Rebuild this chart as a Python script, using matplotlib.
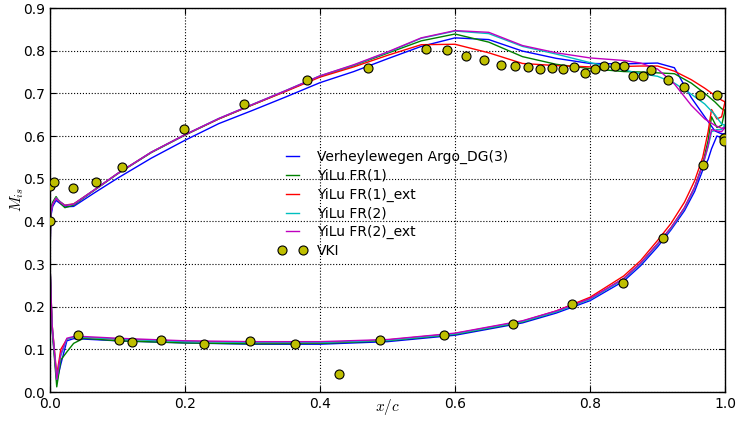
import matplotlib
matplotlib.use("Agg")
import matplotlib.pyplot as plt
from matplotlib.legend_handler import HandlerLine2D

plt.rcParams['mathtext.fontset'] = 'cm'
plt.rcParams['xtick.direction'] = 'in'
plt.rcParams['ytick.direction'] = 'in'
plt.rcParams['xtick.top'] = True
plt.rcParams['ytick.right'] = True

# chord stations: lower (pressure) side from TE to LE, upper (suction) side from LE to TE
x_lower = [1.0, 0.995, 0.988, 0.98, 0.975, 0.967, 0.955, 0.94, 0.92, 0.9,
           0.875, 0.85, 0.8, 0.75, 0.7, 0.6, 0.5, 0.4, 0.3, 0.2, 0.1,
           0.05, 0.035, 0.025, 0.016, 0.01, 0.003, 0.0]
x_upper = [0.001, 0.004, 0.009, 0.015, 0.022, 0.035, 0.065,
           0.1, 0.15, 0.2, 0.25, 0.3, 0.35, 0.4, 0.45, 0.5, 0.55, 0.6, 0.65, 0.7, 0.75, 0.8, 0.85,
           0.875, 0.9, 0.925, 0.95, 0.97, 0.985, 0.995, 1.0]

# isentropic Mach number, Verheylewegen Argo_DG(3)
argo_lower = [0.605, 0.596, 0.600, 0.570, 0.545, 0.520, 0.470, 0.425, 0.380, 0.340,
              0.296, 0.260, 0.214, 0.185, 0.162, 0.133, 0.118, 0.112, 0.112, 0.115, 0.120,
              0.124, 0.125, 0.120, 0.065, 0.025, 0.15, 0.30]
argo_upper = [0.41, 0.435, 0.449, 0.442, 0.434, 0.435, 0.466,
              0.501, 0.548, 0.590, 0.629, 0.660, 0.692, 0.725, 0.751, 0.781, 0.810, 0.830, 0.826, 0.799, 0.782, 0.770, 0.769,
              0.770, 0.771, 0.760, 0.690, 0.645, 0.612, 0.605, 0.605]

# YiLu FR(1)
fr1_lower = [0.660, 0.625, 0.620, 0.645, 0.590, 0.535, 0.480, 0.432, 0.385, 0.347,
             0.302, 0.266, 0.218, 0.188, 0.164, 0.135, 0.120, 0.114, 0.113, 0.115, 0.120,
             0.126, 0.114, 0.094, 0.075, 0.012, 0.15, 0.30]
fr1_upper = [0.43, 0.445, 0.458, 0.443, 0.432, 0.438, 0.472,
             0.511, 0.561, 0.602, 0.640, 0.673, 0.706, 0.740, 0.765, 0.794, 0.823, 0.839, 0.820, 0.786, 0.768, 0.758, 0.751,
             0.750, 0.748, 0.746, 0.724, 0.700, 0.680, 0.664, 0.660]

# YiLu FR(1)_ext
fr1e_lower = [0.680, 0.645, 0.640, 0.662, 0.610, 0.550, 0.495, 0.445, 0.395, 0.355,
              0.308, 0.272, 0.222, 0.190, 0.166, 0.137, 0.122, 0.116, 0.116, 0.119, 0.124,
              0.128, 0.128, 0.124, 0.100, 0.040, 0.16, 0.30]
fr1e_upper = [0.42, 0.44, 0.455, 0.446, 0.438, 0.441, 0.473,
              0.512, 0.562, 0.603, 0.640, 0.673, 0.705, 0.738, 0.762, 0.789, 0.814, 0.815, 0.795, 0.770, 0.765, 0.762, 0.763,
              0.764, 0.764, 0.752, 0.732, 0.712, 0.695, 0.684, 0.680]

# YiLu FR(2)
fr2_lower = [0.625, 0.615, 0.615, 0.610, 0.575, 0.530, 0.478, 0.430, 0.383, 0.345,
             0.300, 0.264, 0.217, 0.188, 0.165, 0.136, 0.121, 0.116, 0.116, 0.118, 0.124,
             0.128, 0.128, 0.124, 0.085, 0.030, 0.16, 0.30]
fr2_upper = [0.42, 0.44, 0.455, 0.446, 0.437, 0.440, 0.473,
             0.512, 0.562, 0.603, 0.641, 0.674, 0.707, 0.741, 0.766, 0.796, 0.829, 0.846, 0.840, 0.810, 0.792, 0.772, 0.755,
             0.746, 0.740, 0.724, 0.698, 0.675, 0.650, 0.628, 0.625]

# YiLu FR(2)_ext
fr2e_lower = [0.620, 0.610, 0.612, 0.615, 0.578, 0.532, 0.480, 0.432, 0.385, 0.347,
              0.302, 0.266, 0.219, 0.190, 0.167, 0.138, 0.123, 0.118, 0.118, 0.120, 0.126,
              0.130, 0.130, 0.126, 0.090, 0.030, 0.16, 0.30]
fr2e_upper = [0.42, 0.44, 0.454, 0.445, 0.437, 0.440, 0.473,
              0.512, 0.562, 0.603, 0.641, 0.674, 0.707, 0.741, 0.767, 0.797, 0.830, 0.847, 0.843, 0.812, 0.795, 0.783, 0.777,
              0.771, 0.757, 0.722, 0.672, 0.640, 0.625, 0.618, 0.620]

# VKI measurements
vki_x = [0.0, 0.0, 0.006, 0.0345, 0.0677, 0.1067, 0.1985, 0.287, 0.380, 0.4716,
         0.5575, 0.5877, 0.6168, 0.6435, 0.6677, 0.689, 0.7077, 0.7264, 0.7437, 0.760,
         0.7758, 0.7926, 0.807, 0.821, 0.8375, 0.851, 0.863, 0.878, 0.891, 0.916,
         0.9397, 0.963, 0.988, 0.999, 0.999,
         0.041, 0.1017, 0.1215, 0.1644, 0.2277, 0.2958, 0.3634, 0.428, 0.489, 0.5837,
         0.686, 0.774, 0.849, 0.9086, 0.967]
vki_m = [0.40, 0.482, 0.493, 0.477, 0.492, 0.527, 0.616, 0.675, 0.732, 0.760,
         0.804, 0.802, 0.7875, 0.777, 0.766, 0.763, 0.762, 0.758, 0.759, 0.758,
         0.761, 0.747, 0.758, 0.763, 0.763, 0.763, 0.741, 0.740, 0.755, 0.732,
         0.715, 0.697, 0.695, 0.595, 0.588,
         0.133, 0.122, 0.1165, 0.121, 0.113, 0.1195, 0.112, 0.043, 0.122, 0.134,
         0.1586, 0.206, 0.256, 0.3617, 0.531]

series = [
    ("Verheylewegen Argo_DG(3)", argo_lower, argo_upper, (0, 0, 1)),
    ("YiLu FR(1)", fr1_lower, fr1_upper, (0, 0.5, 0)),
    ("YiLu FR(1)_ext", fr1e_lower, fr1e_upper, (1, 0, 0)),
    ("YiLu FR(2)", fr2_lower, fr2_upper, (0, 0.75, 0.75)),
    ("YiLu FR(2)_ext", fr2e_lower, fr2e_upper, (0.75, 0, 0.75)),
]

fig = plt.figure(figsize=(7.4, 4.25), dpi=100)
ax = fig.add_axes([50 / 740, 33 / 425, 675 / 740, 384 / 425])

xs = x_lower + x_upper
for name, lower, upper, color in series:
    ax.plot(xs, lower + upper, color=color, lw=1.0, label=name)

vki, = ax.plot(vki_x, vki_m, 'o', color=(0.75, 0.75, 0), mec='black', mew=0.8, ms=6.5,
               ls='none', label="VKI", zorder=5)

ax.set_xlim(0, 1)
ax.set_ylim(0, 0.9)
ax.set_xticks([0.0, 0.2, 0.4, 0.6, 0.8, 1.0])
ax.set_yticks([0.0, 0.1, 0.2, 0.3, 0.4, 0.5, 0.6, 0.7, 0.8, 0.9])
ax.tick_params(labelsize=10, length=4, width=0.8)
ax.set_xlabel("$x/c$", fontsize=11)
ax.xaxis.set_label_coords(0.5, -0.012)
ax.set_ylabel("$M_{is}$", fontsize=11)
ax.yaxis.set_label_coords(-0.036, 0.5)
ax.grid(True, color='black', linestyle=':', linewidth=0.8)
for sp in ax.spines.values():
    sp.set_linewidth(1.0)

ax.legend(loc='upper left', bbox_to_anchor=(0.325, 0.664), frameon=False,
          numpoints=2, fontsize=10, handlelength=1.5, handletextpad=1.0,
          labelspacing=0.35, handler_map={vki: HandlerLine2D(marker_pad=0)})

fig.savefig("out.png", dpi=100)
